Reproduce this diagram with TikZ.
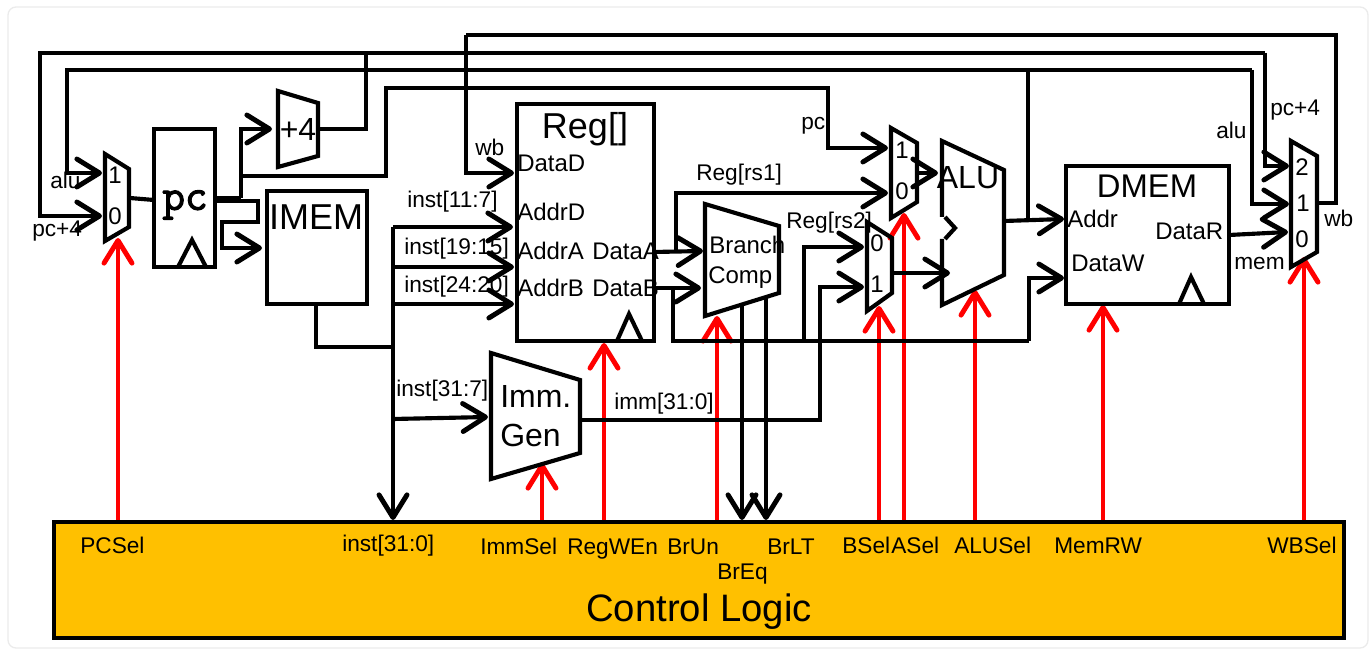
\documentclass[tikz,border=0pt]{standalone}
\usepackage{fontspec}
\setmainfont{Liberation Sans}
\newfontfamily\pcfont[FakeBold=2.5]{Latin Modern Mono}
\usetikzlibrary{arrows.meta}
\tikzset{
  wire/.style={draw=black,line width=3.1pt,line join=miter},
  arrowwire/.style={wire,-{Straight Barb[length=17pt,width=21pt,round,line width=3.7pt]}},
  ctrl/.style={draw=red,line width=3.1pt,-{Straight Barb[length=17pt,width=21pt,round,line width=3.7pt]}},
  block/.style={draw=black,line width=3.1pt,rectangle,inner sep=0pt,outer sep=0pt,anchor=north west},
  shapeline/.style={draw=black,line width=3.1pt,line join=miter},
  sm/.style={inner sep=0pt,anchor=west,yshift=-3pt,font=\fontsize{17}{18}\selectfont,text height=.72em,text depth=.21em},
  pin/.style={inner sep=0pt,anchor=west,yshift=-3.5pt,font=\fontsize{18}{20}\selectfont,text height=.72em,text depth=.21em},
  big/.style={inner sep=0pt,font=\fontsize{27}{30}\selectfont},
}
\definecolor{barfill}{HTML}{FFC000}
\begin{document}
\begin{tikzpicture}[x=0.75pt,y=-0.75pt]
\useasboundingbox (0,0) rectangle (1371,652);
\node[draw=black!8,line width=1pt,rounded corners=6pt,inner sep=0pt,outer sep=0pt,anchor=north west,minimum width=1360*0.75pt,minimum height=641*0.75pt] (card) at (8,7) {};

% ports and junctions
\coordinate (pcmuxA) at (102,173);
\coordinate (pcmuxB) at (102,216);
\coordinate (pcmuxOut) at (130,198);
\coordinate (pcIn) at (154,200);
\coordinate (pcOutA) at (215,198);
\coordinate (pcOutB) at (215,201);
\coordinate (pcUp) at (241,198);
\coordinate (pcAlu) at (241,176);
\coordinate (plusIn) at (272,129);
\coordinate (plusOut) at (318,129);
\coordinate (plusTop) at (366,53);
\coordinate (topL) at (40,53);
\coordinate (topR) at (1265,53);
\coordinate (aluL) at (67,70);
\coordinate (aluR) at (1252,70);
\coordinate (aluTap) at (1028,70);
\coordinate (wbTL) at (466,35);
\coordinate (wbTR) at (1336,35);
\coordinate (wbIn) at (514,173);
\coordinate (wbOut) at (1317,203);
\coordinate (pcBusUp) at (386,88);
\coordinate (pcBusR) at (828,88);
\coordinate (amux1) at (888,148);
\coordinate (amux0) at (888,193);
\coordinate (amuxOut) at (917,173);
\coordinate (aluA) at (938,173);
\coordinate (bmux0) at (864,247);
\coordinate (bmux1) at (864,287);
\coordinate (bmuxOut) at (892,273);
\coordinate (aluB) at (950,273);
\coordinate (imemIn) at (262,248);
\coordinate (w1) at (258,222);
\coordinate (w2) at (222,248);
\coordinate (imemOut) at (316,304);
\coordinate (imemTap) at (316,347);
\coordinate (busJ) at (393,347);
\coordinate (busTop) at (393,227);
\coordinate (busB) at (393,267);
\coordinate (busC) at (393,304);
\coordinate (busD) at (393,419);
\coordinate (busEnd) at (393,520);
\coordinate (addrD) at (513,227);
\coordinate (addrA) at (514,267);
\coordinate (addrB) at (514,304);
\coordinate (immIn) at (488,417);
\coordinate (immOut) at (580,420);
\coordinate (immTurn) at (820,420);
\coordinate (dataAout) at (654,252);
\coordinate (dataBout) at (654,288);
\coordinate (brA) at (703,251);
\coordinate (brB) at (701,288);
\coordinate (rs1J) at (676,252);
\coordinate (rs2J) at (673,288);
\coordinate (rs2Low) at (673,341);
\coordinate (rs2Mux) at (804,341);
\coordinate (rs2Mem) at (1029,341);
\coordinate (memW) at (1064,278);
\coordinate (memA) at (1064,219);
\coordinate (aluOut) at (1004,221);
\coordinate (memR) at (1229,235);
\coordinate (wb0) at (1288,232);
\coordinate (wb1) at (1289,204);
\coordinate (wb2) at (1289,166);
\coordinate (brEqTop) at (742,306);
\coordinate (brLtTop) at (766,297);
\coordinate (brEqEnd) at (742,520);
\coordinate (brLtEnd) at (766,520);

% control signals
\coordinate (c1) at (118,521); \coordinate (t1) at (118,238);
\coordinate (c2) at (542,521); \coordinate (t2) at (542,463);
\coordinate (c3) at (604,521); \coordinate (t3) at (604,343);
\coordinate (c4) at (717,521); \coordinate (t4) at (717,316);
\coordinate (c5) at (879,521); \coordinate (t5) at (879,306);
\coordinate (c6) at (904,521); \coordinate (t6) at (904,213);
\coordinate (c7) at (975,521); \coordinate (t7) at (975,290);
\coordinate (c8) at (1103,521); \coordinate (t8) at (1103,305);
\coordinate (c9) at (1304,521); \coordinate (t9) at (1304,257);
\foreach \i in {1,...,9} \draw[ctrl] (c\i) -- (t\i);

% wires
\draw[wire] (plusOut) -| (plusTop);
\draw[wire] (wbTL) -- (wbTR) |- (wbOut);
\draw[arrowwire] (wbTL) |- (wbIn);
\draw[arrowwire] (topR) -- (topL) |- (pcmuxB);
\draw[arrowwire] (topR) |- (wb2);
\draw[arrowwire] (aluR) -- (aluL) |- (pcmuxA);
\draw[arrowwire] (aluR) |- (wb1);
\draw[wire] (aluTap) -- (aluTap |- aluOut);
\draw[wire] (pcmuxOut) -- (pcIn);
\draw[wire] (pcOutA) -- (pcUp);
\draw[arrowwire] (pcUp) |- (plusIn);
\draw[arrowwire] (pcAlu) -| (pcBusUp) -- (pcBusR) |- (amux1);
\draw[arrowwire] (pcOutB) -| (w1) -| (w2) -- (imemIn);
\draw[wire] (imemOut) |- (busJ);
\draw[arrowwire] (busTop) -- (addrD);
\draw[arrowwire] (busTop) -- (busEnd);
\draw[arrowwire] (busB) -- (addrA);
\draw[arrowwire] (busC) -- (addrB);
\draw[arrowwire] (busD) -- (immIn);
\draw[arrowwire] (immOut) -- (immTurn) |- (bmux1);
\draw[arrowwire] (dataAout) -- (brA);
\draw[arrowwire] (dataBout) -- (brB);
\draw[arrowwire] (rs1J) |- (amux0);
\draw[wire] (rs2J) -- (rs2Low) -- (rs2Mem);
\draw[arrowwire] (rs2Mem) |- (memW);
\draw[arrowwire] (rs2Mux) |- (bmux0);
\draw[arrowwire] (amuxOut) -- (aluA);
\draw[arrowwire] (bmuxOut) -- (aluB);
\draw[arrowwire] (aluOut) -- (memA);
\draw[arrowwire] (memR) -- (wb0);
\draw[arrowwire] (brEqTop) -- (brEqEnd);
\draw[arrowwire] (brLtTop) -- (brLtEnd);

% blocks
\node[block,minimum width=61*0.75pt,minimum height=138*0.75pt] (pcreg) at (154,129) {};
\node[block,minimum width=100*0.75pt,minimum height=113*0.75pt] (imem) at (267,191) {};
\node[block,minimum width=137*0.75pt,minimum height=237*0.75pt] (regfile) at (517,104) {};
\node[block,minimum width=163*0.75pt,minimum height=138*0.75pt] (dmem) at (1066,166) {};
\draw[shapeline] (178,267) -- (192,240) -- (206,267);
\draw[shapeline] (617,341) -- (629,314) -- (642,341);
\draw[shapeline] (1179,304) -- (1191,277) -- (1204,304);
\draw[shapeline] (105,154) -- (129,169) -- (129,227) -- (105,241) -- cycle;
\draw[shapeline] (278,91) -- (318,103) -- (318,156) -- (278,167) -- cycle;
\draw[shapeline] (705,204) -- (779,226) -- (779,293) -- (705,316) -- cycle;
\draw[shapeline] (491,353) -- (580,380) -- (580,453) -- (491,479) -- cycle;
\draw[shapeline] (891,128) -- (917,143) -- (917,202) -- (891,218) -- cycle;
\draw[shapeline] (867,222) -- (892,238) -- (892,293) -- (867,311) -- cycle;
\draw[shapeline] (942,217) -- (942,141) -- (1004,170) -- (1004,275) -- (942,305) -- (942,239);
\draw[shapeline] (945,217) -- (955,228) -- (945,239);
\draw[shapeline] (1291,141) -- (1317,156) -- (1317,252) -- (1291,267) -- cycle;

% control bar
\node[draw=black,line width=3.1pt,fill=barfill,inner sep=0pt,outer sep=0pt,anchor=north west,minimum width=1290*0.75pt,minimum height=116*0.75pt] (bar) at (54,522) {};

% text
\node[big,font=\fontsize{33}{36}\selectfont] (tpc) at (185,205) {\pcfont pc};
\node[big] (timem) at (316,217) {IMEM};
\node[big] (treg) at (585,129) {Reg[]};
\node[big,font=\fontsize{24.6}{26}\selectfont] (tdmem) at (1147,186) {DMEM};
\node[big,font=\fontsize{24}{26}\selectfont] (talu) at (968,178) {ALU};
\node[big,font=\fontsize{24}{26}\selectfont] (tplus) at (298,129) {+4};
\node[big,font=\fontsize{28.7}{30}\selectfont] (tctl) at (699,612) {Control Logic};
\node[pin,font=\fontsize{24}{26}\selectfont] (timm) at (500,399) {Imm.};
\node[pin,font=\fontsize{24}{26}\selectfont] (tgen) at (500,438) {Gen};
\node[pin] (tbr) at (709,245) {Branch};
\node[pin] (tcomp) at (708,275) {Comp};
\node[pin] (pd) at (517,163) {DataD};
\node[pin] (pad) at (517,212) {AddrD};
\node[pin] (paa) at (517,251) {AddrA};
\node[pin] (pab) at (517,288) {AddrB};
\node[pin] (pda) at (592,251) {DataA};
\node[pin] (pdb) at (592,288) {DataB};
\node[pin] (ma) at (1067,219) {Addr};
\node[pin] (mw) at (1071,263) {DataW};
\node[pin] (mr) at (1155,231) {DataR};
\node[pin] (m1a) at (108,175) {1};
\node[pin] (m1b) at (108,216) {0};
\node[pin] (m2a) at (895,150) {1};
\node[pin] (m2b) at (895,191) {0};
\node[pin] (m3a) at (870,243) {0};
\node[pin] (m3b) at (870,284) {1};
\node[pin] (m4a) at (1295,167) {2};
\node[pin] (m4b) at (1296,203) {1};
\node[pin] (m4c) at (1295,239) {0};
\node[sm] (l1) at (50,181) {alu};
\node[sm] (l2) at (32,229) {pc+4};
\node[sm] (l3) at (475,148) {wb};
\node[sm] (l4) at (407,200) {inst[11:7]};
\node[sm] (l5) at (404,247) {inst[19:15]};
\node[sm] (l6) at (404,285) {inst[24:20]};
\node[sm] (l7) at (396,389) {inst[31:7]};
\node[sm] (l8) at (614,402) {imm[31:0]};
\node[sm] (l9) at (801,122) {pc};
\node[sm] (l10) at (696,173) {Reg[rs1]};
\node[sm] (l11) at (786,221) {Reg[rs2]};
\node[sm] (l12) at (1216,131) {alu};
\node[sm] (l13) at (1270,108) {pc+4};
\node[sm] (l14) at (1324,219) {wb};
\node[sm] (l15) at (1234,262) {mem};
\node[sm] (s1) at (80,546) {PCSel};
\node[sm] (s2) at (342,544) {inst[31:0]};
\node[sm] (s3) at (480,547) {ImmSel};
\node[sm] (s4) at (567,547) {RegWEn};
\node[sm] (s5) at (667,547) {BrUn};
\node[sm] (s6) at (767,547) {BrLT};
\node[sm] (s7) at (717,572) {BrEq};
\node[sm] (s8) at (842,546) {BSel};
\node[sm] (s9) at (891,546) {ASel};
\node[sm] (s10) at (954,546) {ALUSel};
\node[sm] (s11) at (1054,546) {MemRW};
\node[sm] (s12) at (1267,546) {WBSel};
\end{tikzpicture}
\end{document}
